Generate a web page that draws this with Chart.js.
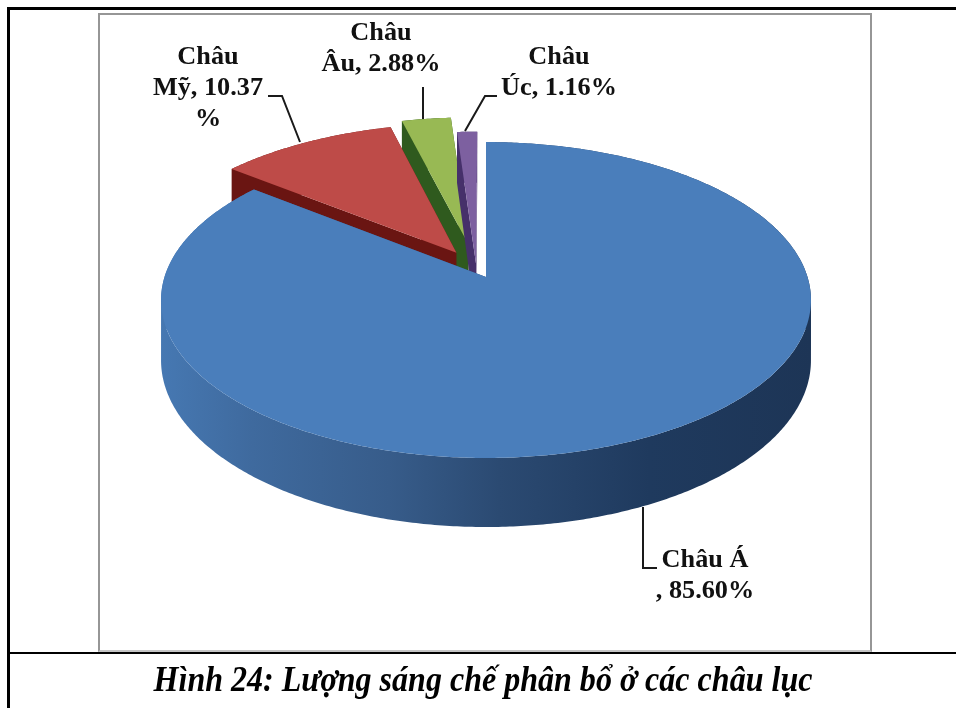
<!DOCTYPE html>
<html lang="vi">
<head>
<meta charset="utf-8">
<title>Hình 24</title>
<script src="https://cdn.jsdelivr.net/npm/chart.js@4"></script>
<style>
  html, body { margin: 0; padding: 0; background: #fff; }
  #page { position: relative; width: 956px; height: 708px; overflow: hidden; }
  #pie { position: absolute; left: 0; top: 0; }
  .rule { position: absolute; background: #000; }
  #frame { position: absolute; left: 98px; top: 13px; width: 770px; height: 635px; border: 2px solid #969696; border-bottom-color: #c4c4c4; background: #fff; box-sizing: content-box; }
  #caption { position: absolute; left: 483px; top: 658px; transform: translateX(-50%) scaleX(0.89); text-align: center;
    font: italic bold 36px "Liberation Serif", serif; color: #000; white-space: nowrap; }
</style>
</head>
<body>
<div id="page">
  <div id="frame"></div>
  <div class="rule" style="left:7px;top:7px;width:949px;height:3px"></div>
  <div class="rule" style="left:7px;top:7px;width:3px;height:701px"></div>
  <div class="rule" style="left:7px;top:652px;width:949px;height:2px"></div>
  <canvas id="pie" width="956" height="708"></canvas>
  <div id="caption">Hình 24: Lượng sáng chế phân bổ ở các châu lục</div>
</div>
<script>
const categories = ['Châu Á', 'Châu Mỹ', 'Châu Âu', 'Châu Úc'];
const shares = [85.60, 10.37, 2.88, 1.16];
const sliceColors = ['#4a7ebb', '#be4b48', '#98b954', '#7d60a0'];
const wallColors = ['#2d4a72', '#6a1512', '#2f5a1e', '#46306a'];
const sliceOffsets = [17.5, 29, 38.5, 6.5];   // px, at a 250px radius

// character positions where each label wraps
const labelBreaks = [[6], [4, 14], [4], [4]];

// ─── PERSPECTIVE ──────────────────────────────────────────────────────────
const TILT = 0.1456;          // foreshortening of the far side
const SPREAD_X = 321.5;
const SPREAD_Y = 154.6;
const APEX_X = 486;
const APEX_Y = 277;
const SHIFT_U = -0.0306;      // pie centre relative to the front slice's apex
const SHIFT_V = -0.0629;
const DEPTH = 59;

function project(u, v) {
  const su = u + SHIFT_U, sv = v + SHIFT_V;
  const s = 1 / (1 - TILT * sv);
  return { x: APEX_X + SPREAD_X * su * s, y: APEX_Y + SPREAD_Y * sv * s, h: DEPTH * s };
}

function sliceOutline(arc) {
  const { startAngle, endAngle, outerRadius, options } = arc;
  const mid = (startAngle + endAngle) / 2;
  const off = options.offset / outerRadius;
  const cu = Math.cos(mid) * off, cv = Math.sin(mid) * off;
  const steps = Math.ceil((endAngle - startAngle) / 0.01);
  const pts = [project(cu, cv)];
  for (let i = 0; i <= steps; i++) {
    const a = startAngle + (endAngle - startAngle) * i / steps;
    pts.push(project(cu + Math.cos(a), cv + Math.sin(a)));
  }
  return pts;
}

function wallFill(ctx, i) {
  if (i !== 0) return wallColors[i];
  // the big slice's rim goes dark from left to right
  const g = ctx.createLinearGradient(161, 0, 812, 0);
  g.addColorStop(0, '#4678b2');
  g.addColorStop(0.14, '#3f6a9e');
  g.addColorStop(0.35, '#375c8a');
  g.addColorStop(0.52, '#2b4a72');
  g.addColorStop(0.75, '#1f3a5e');
  g.addColorStop(1, '#1d3556');
  return g;
}

function drawSlice(ctx, arc, i) {
  const pts = sliceOutline(arc);
  // one path for the whole rim, every quad wound the same way so they merge
  ctx.beginPath();
  pts.forEach((p, k) => {
    const q = pts[(k + 1) % pts.length];
    const quad = [[p.x, p.y], [q.x, q.y], [q.x, q.y + q.h], [p.x, p.y + p.h]];
    if (q.x < p.x) quad.reverse();
    quad.forEach(([x, y], n) => n ? ctx.lineTo(x, y) : ctx.moveTo(x, y));
    ctx.closePath();
  });
  ctx.fillStyle = wallFill(ctx, i);
  ctx.fill();
  ctx.beginPath();
  pts.forEach((p, k) => k ? ctx.lineTo(p.x, p.y) : ctx.moveTo(p.x, p.y));
  ctx.closePath();
  ctx.fillStyle = arc.options.backgroundColor;
  ctx.fill();
}

const pie3d = {
  id: 'pie3d',
  beforeDatasetsDraw(chart) {
    const arcs = chart.getDatasetMeta(0).data;
    const ctx = chart.ctx;
    ctx.save();
    // far slices first, the big one last
    [2, 3, 1, 0].forEach(i => drawSlice(ctx, arcs[i], i));
    ctx.restore();
    return false;
  }
};

// ─── LABELS ───────────────────────────────────────────────────────────────
const labelAnchors = [
  { x: 705, y: 561, leader: [[643, 507], [643, 568], [657, 568]] },
  { x: 208, y: 58, leader: [[268, 96], [282, 96], [300, 142]] },
  { x: 381, y: 34, leader: [[423, 87], [423, 119]] },
  { x: 559, y: 58, leader: [[497, 96], [485, 96], [465, 131]] }
];
const LINE_STEP = 31;
const TEXT_STRETCH = 1.05;

function labelLines(i) {
  const text = `${categories[i]}, ${shares[i].toFixed(2)}%`;
  const cuts = [0, ...labelBreaks[i], text.length];
  return cuts.slice(1).map((end, k) => text.slice(cuts[k], end).trim());
}

const pieLabels = {
  id: 'pieLabels',
  afterDraw(chart) {
    const ctx = chart.ctx;
    ctx.save();
    ctx.strokeStyle = '#1a1a1a';
    ctx.lineWidth = 2;
    ctx.fillStyle = '#111';
    ctx.font = 'bold 25px "Liberation Serif", serif';
    ctx.textAlign = 'center';
    ctx.textBaseline = 'middle';
    labelAnchors.forEach((a, i) => {
      ctx.beginPath();
      a.leader.forEach(([x, y], k) => k ? ctx.lineTo(x, y) : ctx.moveTo(x, y));
      ctx.stroke();
      labelLines(i).forEach((line, k) => {
        ctx.save();
        ctx.translate(a.x, a.y + k * LINE_STEP);
        ctx.scale(TEXT_STRETCH, 1);
        ctx.fillText(line, 0, 0);
        ctx.restore();
      });
    });
    ctx.restore();
  }
};

new Chart(document.getElementById('pie'), {
  type: 'pie',
  data: {
    labels: categories,
    datasets: [{
      data: shares,
      backgroundColor: sliceColors,
      borderWidth: 0,
      offset: sliceOffsets
    }]
  },
  options: {
    responsive: false,
    animation: false,
    radius: 250,
    plugins: { legend: { display: false }, tooltip: { enabled: false } }
  },
  plugins: [pie3d, pieLabels]
});
</script>
</body>
</html>
